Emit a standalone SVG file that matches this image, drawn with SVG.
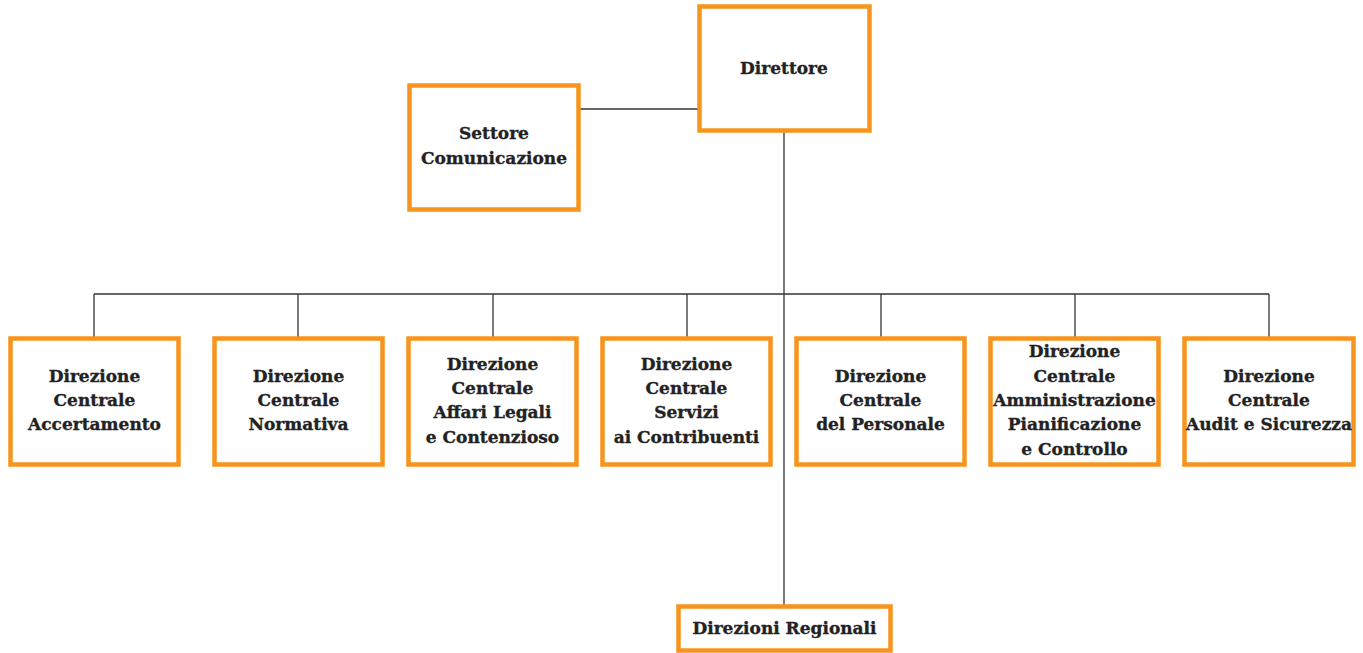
<svg xmlns="http://www.w3.org/2000/svg" width="1363" height="653" viewBox="0 0 1363 653">
<style>
.box{fill:#fff;stroke:#F7941D;stroke-width:4.5}
.ln{fill:none;stroke:#333;stroke-width:1.3}
text{font-family:"DejaVu Serif",serif;font-weight:bold;font-size:17px;fill:#222;stroke:#222;stroke-width:0.35;text-anchor:middle;dominant-baseline:central}
</style>
<rect width="1363" height="653" fill="#fff"/>
<g id="connectors">
<path class="ln" d="M580,109H699"/>
<path class="ln" d="M784,132V606"/>
<path class="ln" d="M94,294H1269"/>
<path class="ln" d="M94,294V338M298,294V338M493,294V338M687,294V338M881,294V338M1075,294V338M1269,294V338"/>
</g>
<g id="direttore"><rect class="box" x="699.5" y="6.5" width="170" height="124"/><text x="784" y="68">Direttore</text></g>
<g id="settore"><rect class="box" x="409.5" y="85.5" width="169" height="124"/><text x="494" y="133">Settore</text><text x="494" y="158">Comunicazione</text></g>
<g id="dc-accertamento"><rect class="box" x="10.5" y="338.5" width="168" height="126"/><text x="94.5" y="376">Direzione</text><text x="94.5" y="400">Centrale</text><text x="94.5" y="424">Accertamento</text></g>
<g id="dc-normativa"><rect class="box" x="214.5" y="338.5" width="168" height="126"/><text x="298.5" y="376">Direzione</text><text x="298.5" y="400">Centrale</text><text x="298.5" y="424">Normativa</text></g>
<g id="dc-affari-legali"><rect class="box" x="408.5" y="338.5" width="168" height="126"/><text x="492.5" y="364">Direzione</text><text x="492.5" y="388">Centrale</text><text x="492.5" y="412">Affari Legali</text><text x="492.5" y="437">e Contenzioso</text></g>
<g id="dc-servizi"><rect class="box" x="602.5" y="338.5" width="168" height="126"/><text x="686.5" y="364">Direzione</text><text x="686.5" y="388">Centrale</text><text x="686.5" y="412">Servizi</text><text x="686.5" y="437">ai Contribuenti</text></g>
<g id="dc-personale"><rect class="box" x="796.5" y="338.5" width="168" height="126"/><text x="880.5" y="376">Direzione</text><text x="880.5" y="400">Centrale</text><text x="880.5" y="424">del Personale</text></g>
<g id="dc-amministrazione"><rect class="box" x="990.5" y="338.5" width="168" height="126"/><text x="1074.5" y="351">Direzione</text><text x="1074.5" y="376">Centrale</text><text x="1074.5" y="400">Amministrazione</text><text x="1074.5" y="424">Pianificazione</text><text x="1074.5" y="449">e Controllo</text></g>
<g id="dc-audit"><rect class="box" x="1184.5" y="338.5" width="169" height="126"/><text x="1269" y="376">Direzione</text><text x="1269" y="400">Centrale</text><text x="1269" y="424">Audit e Sicurezza</text></g>
<g id="direzioni-regionali"><rect class="box" x="678.5" y="606.5" width="212" height="44"/><text x="784.5" y="628">Direzioni Regionali</text></g>
</svg>
